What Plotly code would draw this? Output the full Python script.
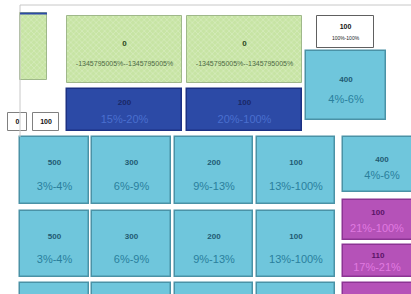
import plotly.graph_objects as go

# ---- data ----
grid_values = ["500", "300", "200", "100"]
grid_ranges = ["3%-4%", "6%-9%", "9%-13%", "13%-100%"]
green_values = ["", "0", "0"]
green_ranges = ["", "-1345795005%--1345795005%", "-1345795005%--1345795005%"]
blue_values = ["200", "100"]
blue_ranges = ["15%-20%", "20%-100%"]
white_values = ["0", "100"]
note_value = "100"
note_range = "100%-100%"
side_value = "400"
side_range = "4%-6%"
magenta_values = ["100", "110", ""]
magenta_ranges = ["21%-100%", "17%-21%", ""]

# ---- geometry (layout of the diagram, in pixels of the canvas) ----
col_edges = [(20, 89), (92, 171), (175, 253), (257, 335)]
row_edges = [(137, 204), (211, 277), (283, 310)]
green_edges = [(20, 47, 13, 80), (67, 182, 16, 83), (187, 302, 16, 83)]
blue_edges = [(67, 182, 89, 131), (187, 302, 89, 131)]
white_edges = [(8, 27, 113, 131), (33, 59, 113, 131)]
note_edge = (317, 374, 16, 48)
side_edges = [(306, 386, 51, 120), (343, 421, 137, 192)]
magenta_edges = [(343, 421, 200, 240), (343, 421, 245, 277), (343, 421, 283, 310)]

fig = go.Figure()


def add_boxes(edges, fill, line, pattern=None, name="", lw=1.5):
    xs = [(a + b) / 2 for a, b, _, _ in edges]
    ws = [b - a for a, b, _, _ in edges]
    bases = [t for _, _, t, _ in edges]
    hs = [bt - t for _, _, t, bt in edges]
    marker = dict(color=fill, line=dict(color=line, width=lw))
    if pattern:
        marker["pattern"] = pattern
    fig.add_trace(go.Bar(x=xs, y=hs, base=bases, width=ws, marker=marker,
                         hoverinfo="skip", name=name))


def add_text(edges, texts, fy, color, size, bold=False, dx=0):
    xs, ys, tt = [], [], []
    for (a, b, t, bt), s in zip(edges, texts):
        if not s:
            continue
        xs.append((a + b) / 2 + dx)
        ys.append(t + fy * (bt - t))
        tt.append(f"<b>{s}</b>" if bold else s)
    fig.add_trace(go.Scatter(x=xs, y=ys, text=tt, mode="text",
                             textfont=dict(color=color, size=size, family="Arial"),
                             hoverinfo="skip", cliponaxis=False))


# grid cells
grid_edges = []
grid_v, grid_r = [], []
for r in row_edges:
    for (c, v, rg) in zip(col_edges, grid_values, grid_ranges):
        grid_edges.append((c[0], c[1], r[0], r[1]))
        grid_v.append(v)
        grid_r.append(rg)

add_boxes(green_edges, "#cde7ad", "#9fb88a",
          pattern=dict(shape="x", fgcolor="#eaf5dd", bgcolor="#c7e4a4", size=4, solidity=0.3), lw=1)
add_boxes(blue_edges, "#2c4aa6", "#1c3183")
add_boxes(white_edges, "#ffffff", "#808080", lw=1)
add_boxes([note_edge], "#ffffff", "#606060", lw=1)
add_boxes(grid_edges, "#6fc6dc", "#4a92a6")
add_boxes(side_edges, "#6fc6dc", "#4a92a6")
add_boxes(magenta_edges, "#b552b8", "#8c3493")

add_text(green_edges, green_values, 0.42, "#2c4a1c", 8, bold=True)
add_text(green_edges, green_ranges, 0.72, "#4d6a44", 7)
add_text(blue_edges, blue_values, 0.33, "#1a2866", 8, bold=True)
add_text(blue_edges, blue_ranges, 0.74, "#4a6fcf", 11)
add_text(white_edges, white_values, 0.5, "#111111", 7, bold=True)
add_text([note_edge], [note_value], 0.35, "#111111", 7, bold=True)
add_text([note_edge], [note_range], 0.72, "#222222", 5)
add_text(side_edges, [side_value, side_value], 0.42, "#1f5a72", 8, bold=True)
add_text(side_edges, [side_range, side_range], 0.72, "#2a7f9c", 11)
add_text(grid_edges[:8], grid_v[:8], 0.39, "#1f5a72", 8, bold=True)
add_text(grid_edges[:8], grid_r[:8], 0.75, "#2a7f9c", 11)
add_text(magenta_edges, magenta_values, 0.33, "#5a1466", 8, bold=True, dx=-4)
add_text(magenta_edges, magenta_ranges, 0.72, "#e07ae0", 11, dx=-5)

# frame lines of the diagram
fig.add_shape(type="line", x0=20, x1=411, y0=5, y1=5, line=dict(color="#c8c8c8", width=1))
fig.add_shape(type="line", x0=20, x1=20, y0=5, y1=137, line=dict(color="#c8c8c8", width=1))
fig.add_shape(type="line", x0=20, x1=47, y0=13.5, y1=13.5, line=dict(color="#2c4aa6", width=2))

fig.update_layout(
    width=411, height=294, margin=dict(l=0, r=0, t=0, b=0),
    paper_bgcolor="white", plot_bgcolor="white",
    barmode="overlay", bargap=0, showlegend=False,
    xaxis=dict(range=[0, 411], visible=False, fixedrange=True),
    yaxis=dict(range=[294, 0], visible=False, fixedrange=True),
)
fig.write_html("out.html", config={"displayModeBar": False},
               post_script="document.body.style.margin='0';document.body.style.overflow='hidden';")
